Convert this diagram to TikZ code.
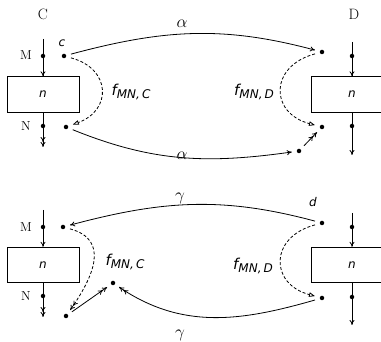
\documentclass[tikz,border=0pt]{standalone}
\usepackage{fontspec}
\newfontfamily\vera{DejaVu Sans}
\usetikzlibrary{arrows.meta}

\newcommand{\fsub}[1]{{\vera\itshape\fontsize{15}{17}\selectfont f\raisebox{-3.5pt}{\fontsize{12}{14}\selectfont #1}}}

\begin{document}
\begin{tikzpicture}[
    x=1pt, y=1pt, line width=0.8pt, >={To[length=5pt,width=5pt]},
    dot/.style={circle, fill, inner sep=0pt, minimum size=4.5pt, outer sep=5pt},
    unit/.style={draw, rectangle, minimum width=72pt, minimum height=35.5pt,
                 font=\vera\itshape\fontsize{12}{14}\selectfont},
    unitD/.style={unit, minimum width=82pt},
    flow/.style={dash pattern=on 3pt off 2pt},
    open tip/.style={-{Triangle[open,length=6pt,width=4.5pt]}},
    side/.style={font=\fontsize{15}{17}\selectfont},
    port/.style={font=\fontsize{13}{15}\selectfont},
    pname/.style={font=\vera\itshape\fontsize{12}{14}\selectfont},
    rate/.style={font=\fontsize{16}{18}\selectfont}]
  % fixed 381 x 342 canvas
  \path[use as bounding box] (0,0) rectangle (381,342);

  % ================= 1) upper pair: alpha =================
  \node[side] (labC) at (43,328) {C};
  \node[side] (labD) at (354,328) {D};
  \node[unit] (boxC1) at (43,247.5) {n};
  \node[unitD] (boxD1) at (352,247.5) {n};
  % streams through C
  \coordinate (inC1) at (43,303);
  \coordinate (outC1) at (43,195);
  \draw[->] (inC1) -- (boxC1.north);
  \draw[->>] (boxC1.south) -- (outC1);
  \node[dot] (mC1) at (43,286) {};
  \node[dot] (nC1) at (43,216) {};
  \node[port] (labM1) at (26,287) {M};
  \node[port] (labN1) at (26,216) {N};
  % streams through D
  \coordinate (inD1) at (352,300);
  \coordinate (outD1) at (352,187);
  \draw[->] (inD1) -- (boxD1.north);
  \draw[->] (boxD1.south) -- (outD1);
  \node[dot] (mD1) at (352,286) {};
  \node[dot] (nD1) at (352,216) {};
  % flow points
  \node[dot] (c1) at (64,286) {};
  \node[pname] (labc) at (62,299) {c};
  \node[dot] (cb1) at (66,215) {};
  \node[dot] (d1) at (322,290) {};
  \node[dot] (db1) at (322,215) {};
  \node[dot] (dm1) at (299,191) {};
  \draw[->] (c1) to[out=15,in=165] (d1);
  \draw[->] (cb1) to[out=-22,in=188] (dm1);
  \draw[flow, open tip] (c1) to[out=-15,in=20,looseness=1.6] (cb1);
  \draw[flow, open tip] (d1) to[out=195,in=165,looseness=1.7] (db1);
  \draw[->>] (dm1) -- (db1);
  \node (fC1) at (131,250) {\fsub{MN,\,C}};
  \node (fD1) at (254,250) {\fsub{MN,\,D}};
  \node[rate] (a1) at (182,318) {$\alpha$};
  \node[rate] (a2) at (182,186) {$\alpha$};

  % ================= 2) lower pair: gamma =================
  \node[unit] (boxC2) at (43,77) {n};
  \node[unitD] (boxD2) at (352,77) {n};
  % streams through C
  \coordinate (inC2) at (43,132);
  \coordinate (outC2) at (43,25);
  \draw[->] (inC2) -- (boxC2.north);
  \draw[->>] (boxC2.south) -- (outC2);
  \node[dot] (mC2) at (43,115) {};
  \node[dot] (nC2) at (43,46) {};
  \node[port] (labM2) at (26,115) {M};
  \node[port] (labN2) at (26,46) {N};
  % streams through D
  \coordinate (inD2) at (352,129);
  \coordinate (outD2) at (352,17);
  \draw[->] (inD2) -- (boxD2.north);
  \draw[->] (boxD2.south) -- (outD2);
  \node[dot] (mD2) at (352,115) {};
  \node[dot] (nD2) at (352,45) {};
  % flow points
  \node[dot] (c2) at (63,115) {};
  \node[dot] (cb2) at (66,26) {};
  \node[dot] (cm2) at (113,59) {};
  \node[dot] (d2) at (322,119) {};
  \node[pname] (labd) at (313,140) {d};
  \node[dot] (db2) at (322,44) {};
  \draw[->] (d2) to[out=165,in=15] (c2);
  \draw[->>] (db2) to[out=196,in=-34] (cm2);
  \draw[flow, ->>] (c2) to[out=-15,in=55,looseness=1.3] (cb2);
  \draw[flow, open tip] (d2) to[out=195,in=165,looseness=1.7] (db2);
  \draw[->>] (cb2) -- (cm2);
  \node (fC2) at (125,80) {\fsub{MN,\,C}};
  \node (fD2) at (253,76) {\fsub{MN,\,D}};
  \node[rate] (g1) at (180,144) {$\gamma$};
  \node[rate] (g2) at (180,7) {$\gamma$};
\end{tikzpicture}
\end{document}
